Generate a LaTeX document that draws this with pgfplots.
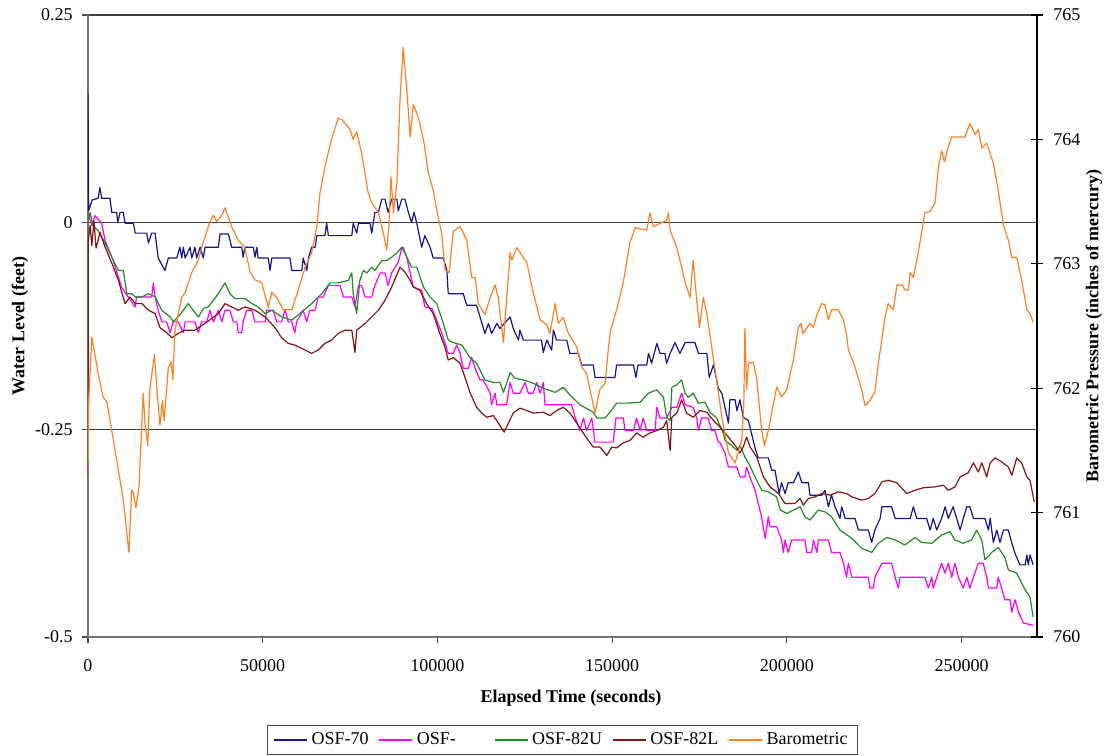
\documentclass[border=0pt]{standalone}
\usepackage{pgfplots}
\pgfplotsset{compat=1.18}
\usepackage{fontspec}
\setmainfont{Liberation Serif}
\definecolor{osfA}{RGB}{20,20,140}
\definecolor{osfB}{RGB}{255,0,255}
\definecolor{osfC}{RGB}{30,140,30}
\definecolor{osfD}{RGB}{130,20,20}
\definecolor{baro}{RGB}{255,128,32}
\begin{document}
\fontsize{9}{11}\selectfont
\begin{tikzpicture}
\useasboundingbox (-44pt,-59pt) rectangle (509.5pt,318.5pt);
% water levels, left axis
\begin{axis}[
  scale only axis, width=474.5pt, height=311pt,
  xmin=0, xmax=271600, ymin=-0.5, ymax=0.25,
  axis x line*=bottom, axis y line*=left,
  axis line style={black!55, line width=0.7pt},
  scaled x ticks=false,
  xtick={0,50000,100000,150000,200000,250000},
  xticklabels={0,50000,100000,150000,200000,250000},
  xticklabel style={yshift=-5pt},
  ytick={-0.5,-0.25,0,0.25},
  yticklabels={-0.5,-0.25,0,0.25},
  yticklabel style={xshift=-1.5pt},
  tick align=outside, major tick length=3pt,
  tick style={black!70, line width=0.6pt},
  ymajorgrids, grid style={black!75, line width=0.7pt},
  xlabel={\textbf{Elapsed Time (seconds)}},
  ylabel={\textbf{Water Level (feet)}},
  x label style={at={(axis description cs:0.509,-0.0981)}, anchor=center},
  y label style={at={(axis description cs:-0.0717,0.5)}, anchor=center},
  every axis plot/.append style={line width=0.6pt, line join=round},
]
\addplot[osfA] coordinates {
(0,0.155) (200,0.014) (1200,0.027) (2900,0.029) (3400,0.042) (3900,0.029) (6300,0.029) (6800,0.012) (8200,0.012) (8500,0.000) (9200,0.012) (10100,0.012) (10600,-0.001) (13000,-0.001) (13500,-0.013) (16800,-0.013) (17300,-0.025) (18200,-0.013) (19200,-0.013) (20100,-0.043) (22000,-0.058) (23000,-0.043) (25400,-0.043) (26300,-0.030) (26800,-0.043) (27300,-0.030) (27800,-0.043) (29200,-0.030) (29700,-0.043) (30600,-0.030) (31100,-0.043) (32100,-0.030) (33000,-0.043) (33500,-0.030) (37300,-0.030) (37800,-0.014) (40200,-0.014) (41100,-0.030) (44000,-0.030) (44400,-0.042) (44900,-0.030) (47300,-0.030) (47800,-0.042) (48300,-0.030) (48700,-0.043) (51600,-0.043) (52100,-0.058) (52600,-0.043) (57800,-0.043) (58300,-0.058) (61200,-0.058) (61600,-0.043) (62600,-0.058) (63100,-0.043) (64000,-0.030) (65000,-0.030) (65500,-0.016) (67800,-0.016) (68300,-0.001) (68800,-0.016) (75500,-0.016) (75900,-0.001) (76900,-0.013) (77400,-0.001) (80700,-0.001) (81200,-0.013) (82100,0.012) (83100,0.012) (84100,0.028) (85000,0.028) (85900,0.012) (86900,0.028) (88400,0.028) (88800,0.014) (89800,0.028) (90700,0.028) (91700,0.012) (92600,0.000) (93300,0.012) (94100,-0.001) (95500,-0.030) (96400,-0.016) (97900,-0.030) (98800,-0.043) (101700,-0.043) (102700,-0.058) (103100,-0.086) (107400,-0.086) (108400,-0.100) (111200,-0.100) (112200,-0.114) (113600,-0.134) (114600,-0.122) (115500,-0.134) (117000,-0.122) (117900,-0.128) (120800,-0.114) (121700,-0.128) (123200,-0.142) (123600,-0.130) (124600,-0.142) (129800,-0.142) (130300,-0.157) (131300,-0.142) (132700,-0.154) (133200,-0.130) (134100,-0.142) (137000,-0.142) (137900,-0.158) (140300,-0.158) (141300,-0.172) (144600,-0.172) (145100,-0.187) (150800,-0.187) (151300,-0.172) (156100,-0.172) (156800,-0.187) (157400,-0.172) (159900,-0.172) (160400,-0.158) (161300,-0.170) (162800,-0.146) (163700,-0.158) (165100,-0.158) (165600,-0.170) (166600,-0.158) (168000,-0.145) (169400,-0.158) (170900,-0.145) (173700,-0.145) (174700,-0.158) (177100,-0.158) (177800,-0.187) (179000,-0.172) (180400,-0.200) (181400,-0.206) (183300,-0.242) (183700,-0.214) (185200,-0.214) (185700,-0.227) (186600,-0.214) (187500,-0.235) (189000,-0.239) (190900,-0.272) (191800,-0.284) (194700,-0.284) (195700,-0.299) (196600,-0.299) (197800,-0.327) (198500,-0.314) (199500,-0.327) (200400,-0.314) (201900,-0.314) (203300,-0.301) (204300,-0.314) (206200,-0.314) (206600,-0.329) (210000,-0.329) (210900,-0.323) (211900,-0.343) (212800,-0.329) (213800,-0.343) (215200,-0.357) (215700,-0.343) (216700,-0.357) (219500,-0.357) (220500,-0.371) (223300,-0.371) (224300,-0.386) (225200,-0.371) (226700,-0.357) (227200,-0.343) (230000,-0.343) (231000,-0.357) (235300,-0.357) (236200,-0.343) (237200,-0.357) (240000,-0.357) (241000,-0.371) (241900,-0.357) (242900,-0.371) (244300,-0.357) (245300,-0.343) (246200,-0.357) (247600,-0.343) (248600,-0.357) (249600,-0.371) (250500,-0.357) (251500,-0.343) (252400,-0.343) (253400,-0.357) (256700,-0.357) (257700,-0.371) (258200,-0.357) (259100,-0.386) (260100,-0.371) (261000,-0.386) (262000,-0.371) (263400,-0.371) (264400,-0.387) (265300,-0.399) (266700,-0.413) (268200,-0.413) (268700,-0.401) (269100,-0.413) (269600,-0.401) (270500,-0.413)
};
\addplot[osfB] coordinates {
(0,0.012) (1100,-0.004) (2000,0.008) (3900,-0.001) (4900,-0.022) (7200,-0.046) (9600,-0.078) (11500,-0.090) (13500,-0.102) (13900,-0.090) (15800,-0.090) (18200,-0.090) (18700,-0.073) (19200,-0.090) (20100,-0.106) (21100,-0.120) (22500,-0.120) (23500,-0.133) (24400,-0.120) (25800,-0.120) (27300,-0.133) (27800,-0.120) (30600,-0.120) (31600,-0.133) (32500,-0.120) (34000,-0.120) (34900,-0.106) (35900,-0.120) (37300,-0.106) (38300,-0.120) (39200,-0.106) (40600,-0.106) (41600,-0.120) (42600,-0.120) (43000,-0.133) (44000,-0.133) (44400,-0.120) (45400,-0.106) (46900,-0.106) (47800,-0.120) (50700,-0.120) (51100,-0.106) (53000,-0.106) (54000,-0.120) (55400,-0.120) (56400,-0.106) (57300,-0.120) (58300,-0.120) (59200,-0.133) (59700,-0.120) (61600,-0.106) (62600,-0.120) (63500,-0.106) (65000,-0.106) (65900,-0.090) (67300,-0.090) (68800,-0.076) (72100,-0.076) (73100,-0.090) (75500,-0.090) (76400,-0.102) (77400,-0.076) (78300,-0.076) (79300,-0.090) (81200,-0.090) (82100,-0.076) (83600,-0.061) (85000,-0.061) (85900,-0.076) (86900,-0.061) (88800,-0.048) (89800,-0.031) (90200,-0.030) (91200,-0.042) (92200,-0.061) (93100,-0.078) (95500,-0.082) (96400,-0.102) (98400,-0.104) (99800,-0.118) (101200,-0.133) (102200,-0.146) (103100,-0.158) (104500,-0.158) (105500,-0.148) (106500,-0.158) (107400,-0.176) (108800,-0.176) (109800,-0.163) (110800,-0.176) (112200,-0.190) (113100,-0.190) (115100,-0.206) (115500,-0.220) (116500,-0.206) (117000,-0.220) (119800,-0.220) (120800,-0.193) (121700,-0.206) (123600,-0.206) (125100,-0.193) (126000,-0.206) (127400,-0.206) (128400,-0.193) (129400,-0.206) (130300,-0.193) (130800,-0.220) (138400,-0.220) (139400,-0.235) (140800,-0.251) (141800,-0.236) (142700,-0.251) (144200,-0.236) (145100,-0.265) (150300,-0.265) (151100,-0.236) (153200,-0.236) (153700,-0.251) (156100,-0.251) (157000,-0.236) (158000,-0.251) (158900,-0.236) (159900,-0.251) (162300,-0.251) (162800,-0.223) (163700,-0.236) (165600,-0.236) (167100,-0.223) (168500,-0.223) (169900,-0.206) (170900,-0.220) (173200,-0.223) (174200,-0.236) (174700,-0.251) (175600,-0.236) (177500,-0.236) (178500,-0.251) (179400,-0.251) (180400,-0.265) (180900,-0.266) (182300,-0.278) (183300,-0.295) (185700,-0.295) (186600,-0.307) (188000,-0.307) (188500,-0.295) (189500,-0.308) (190900,-0.323) (191800,-0.339) (192800,-0.355) (193800,-0.381) (194700,-0.355) (195200,-0.367) (197100,-0.367) (198500,-0.383) (199000,-0.398) (199500,-0.383) (200400,-0.398) (201400,-0.383) (205200,-0.383) (205700,-0.398) (207100,-0.398) (207600,-0.383) (208600,-0.398) (209000,-0.383) (211900,-0.383) (212800,-0.398) (215200,-0.398) (216200,-0.411) (217100,-0.428) (217600,-0.411) (218600,-0.428) (223300,-0.428) (223800,-0.441) (224800,-0.441) (225200,-0.428) (227200,-0.411) (230000,-0.411) (231000,-0.428) (231900,-0.441) (232400,-0.428) (239500,-0.428) (240500,-0.441) (241500,-0.428) (241900,-0.441) (242900,-0.428) (244300,-0.411) (245300,-0.423) (246200,-0.411) (247200,-0.428) (248100,-0.411) (249100,-0.428) (250500,-0.441) (251500,-0.428) (252400,-0.441) (253400,-0.428) (254800,-0.411) (256200,-0.411) (257200,-0.428) (257700,-0.441) (260100,-0.441) (260500,-0.428) (261500,-0.441) (262400,-0.455) (263900,-0.455) (264400,-0.470) (265300,-0.455) (266300,-0.470) (267700,-0.483) (270500,-0.486)
};
\addplot[osfC] coordinates {
(0,-0.001) (600,0.012) (1400,-0.004) (2900,-0.010) (4900,-0.025) (6800,-0.042) (8700,-0.058) (10100,-0.058) (11100,-0.086) (12500,-0.086) (13500,-0.090) (15400,-0.090) (17300,-0.086) (19200,-0.090) (21100,-0.106) (23500,-0.114) (24400,-0.120) (25800,-0.114) (27300,-0.106) (28700,-0.098) (30100,-0.106) (31600,-0.114) (33000,-0.104) (34400,-0.102) (35900,-0.094) (37300,-0.086) (39200,-0.073) (40600,-0.086) (42100,-0.092) (44900,-0.092) (46900,-0.098) (48700,-0.102) (50700,-0.110) (52600,-0.106) (55400,-0.114) (58300,-0.118) (61200,-0.108) (64000,-0.098) (66900,-0.086) (69300,-0.073) (71600,-0.073) (74500,-0.070) (75500,-0.061) (75900,-0.086) (76900,-0.110) (77800,-0.070) (78800,-0.058) (79800,-0.061) (81200,-0.054) (82100,-0.058) (84100,-0.046) (85500,-0.046) (86900,-0.042) (88400,-0.037) (89800,-0.030) (90700,-0.037) (92600,-0.054) (94100,-0.054) (96000,-0.078) (97900,-0.090) (99800,-0.098) (101700,-0.122) (103100,-0.142) (104500,-0.145) (107000,-0.148) (109300,-0.163) (111200,-0.170) (113600,-0.190) (116000,-0.193) (117900,-0.193) (118900,-0.205) (119800,-0.194) (120800,-0.181) (122200,-0.188) (124600,-0.190) (127400,-0.194) (130300,-0.200) (133700,-0.205) (136000,-0.199) (137900,-0.208) (140800,-0.220) (144600,-0.229) (145600,-0.236) (148000,-0.236) (149400,-0.229) (151300,-0.218) (154200,-0.218) (158000,-0.217) (160400,-0.206) (162800,-0.202) (164700,-0.211) (165600,-0.235) (166600,-0.239) (167100,-0.199) (168500,-0.196) (169900,-0.190) (170900,-0.206) (171800,-0.211) (173200,-0.206) (174700,-0.218) (176600,-0.217) (178000,-0.229) (179900,-0.236) (181800,-0.254) (182300,-0.263) (184200,-0.269) (185700,-0.275) (186600,-0.269) (188000,-0.283) (189000,-0.290) (190900,-0.307) (192800,-0.323) (194700,-0.325) (197100,-0.331) (198100,-0.347) (200000,-0.351) (201900,-0.347) (203800,-0.343) (205200,-0.355) (206600,-0.359) (209000,-0.347) (210900,-0.349) (212800,-0.355) (215200,-0.371) (218600,-0.381) (221400,-0.393) (224300,-0.398) (226200,-0.387) (228600,-0.380) (231000,-0.383) (233800,-0.389) (236700,-0.380) (238600,-0.386) (241500,-0.387) (244300,-0.377) (246700,-0.373) (248100,-0.383) (250500,-0.387) (252900,-0.383) (254300,-0.371) (255800,-0.383) (256700,-0.407) (258600,-0.398) (260500,-0.392) (262400,-0.404) (263400,-0.419) (265800,-0.423) (267200,-0.435) (268200,-0.443) (269600,-0.452) (270500,-0.476)
};
\addplot[osfD] coordinates {
(0,-0.307) (100,-0.022) (600,-0.004) (1100,-0.028) (1700,0.002) (2300,-0.031) (2900,-0.022) (3400,-0.012) (4900,-0.030) (6800,-0.049) (8700,-0.070) (10600,-0.098) (12000,-0.090) (13500,-0.098) (15400,-0.098) (17300,-0.106) (19200,-0.110) (20600,-0.127) (22500,-0.133) (24000,-0.139) (25800,-0.134) (27800,-0.130) (30600,-0.130) (33500,-0.122) (35400,-0.116) (37300,-0.110) (39200,-0.098) (41100,-0.102) (43000,-0.106) (44900,-0.102) (47800,-0.106) (50700,-0.114) (53500,-0.127) (55400,-0.139) (57300,-0.146) (59200,-0.148) (62100,-0.154) (64000,-0.158) (65900,-0.154) (67800,-0.146) (69700,-0.142) (71600,-0.134) (73600,-0.130) (75500,-0.130) (76400,-0.157) (76900,-0.130) (79300,-0.122) (81200,-0.114) (83100,-0.106) (85000,-0.094) (86900,-0.078) (89300,-0.054) (90700,-0.060) (92200,-0.070) (93100,-0.078) (95000,-0.082) (96900,-0.098) (98800,-0.110) (100700,-0.134) (102200,-0.151) (103100,-0.166) (104500,-0.163) (106500,-0.170) (107900,-0.187) (109300,-0.205) (111200,-0.223) (112700,-0.230) (114100,-0.235) (116000,-0.233) (117900,-0.245) (119100,-0.253) (120300,-0.242) (121700,-0.230) (123600,-0.224) (125600,-0.227) (127400,-0.230) (130300,-0.229) (132200,-0.233) (134100,-0.227) (136000,-0.223) (137900,-0.230) (139900,-0.242) (142200,-0.257) (144600,-0.271) (146500,-0.271) (148500,-0.281) (149900,-0.271) (151300,-0.272) (153200,-0.266) (155100,-0.263) (157000,-0.254) (158900,-0.259) (160800,-0.254) (162800,-0.251) (164700,-0.247) (165600,-0.239) (166600,-0.275) (167100,-0.235) (168500,-0.230) (169900,-0.214) (171300,-0.230) (173200,-0.235) (175200,-0.227) (177100,-0.229) (179000,-0.239) (180900,-0.247) (182300,-0.254) (183300,-0.259) (185200,-0.269) (186600,-0.278) (187500,-0.271) (188500,-0.259) (189500,-0.271) (191400,-0.283) (193300,-0.307) (195200,-0.319) (197600,-0.327) (199500,-0.339) (202300,-0.339) (203800,-0.333) (204700,-0.341) (206200,-0.333) (208100,-0.331) (210000,-0.327) (212400,-0.329) (214700,-0.325) (217100,-0.327) (218600,-0.331) (221400,-0.335) (223300,-0.333) (225200,-0.327) (227200,-0.313) (229000,-0.311) (231500,-0.314) (234300,-0.327) (236700,-0.323) (239100,-0.320) (242400,-0.319) (244800,-0.317) (246200,-0.323) (248100,-0.319) (249600,-0.307) (251900,-0.302) (253400,-0.290) (254800,-0.301) (255800,-0.290) (257200,-0.307) (258200,-0.290) (259600,-0.284) (261500,-0.289) (263400,-0.295) (264400,-0.305) (265800,-0.284) (267200,-0.290) (268700,-0.307) (269600,-0.311) (270800,-0.337)
};
\end{axis}
% barometric pressure, right axis
\begin{axis}[
  scale only axis, width=474.5pt, height=311pt,
  xmin=0, xmax=271600, ymin=760, ymax=765,
  axis x line=none, axis y line*=right,
  axis line style={black, line width=0.7pt},
  ytick={760,761,762,763,764,765},
  yticklabels={760,761,762,763,764,765},
  yticklabel style={xshift=2pt},
  tick align=center, major tick length=6pt,
  tick style={black, line width=0.6pt},
  ylabel={\textbf{Barometric Pressure (inches of mercury)}},
  y label style={at={(axis description cs:1.06,0.5)}, anchor=center},
  every axis plot/.append style={line width=0.6pt, line join=round},
  legend columns=5,
  legend style={at={(axis description cs:0.5,-0.1415)}, anchor=north,
    draw=black!70, line width=0.7pt, inner xsep=3pt, inner ysep=1.5pt,
    /tikz/every even column/.append style={column sep=3pt}},
  legend image code/.code={\draw[#1, line width=0.6pt] (0pt,0pt) -- (16.5pt,0pt);},
]
\addlegendimage{osfA}
\addlegendentry{OSF-70}
\addlegendimage{osfB}
\addlegendentry{OSF-\kern14pt}
\addlegendimage{osfC}
\addlegendentry{OSF-82U}
\addlegendimage{osfD}
\addlegendentry{OSF-82L}
\addplot[baro] coordinates {
(0,761.29) (200,761.90) (1100,762.41) (2900,762.12) (4300,761.93) (5400,761.89) (6800,761.66) (8700,761.34) (10100,761.10) (11700,760.68) (12500,761.18) (12900,761.17) (13700,761.04) (14600,761.21) (15800,761.96) (16300,761.72) (17100,761.54) (17700,761.99) (19000,762.27) (19900,761.93) (20600,761.70) (21300,761.90) (21800,761.74) (23000,762.17) (23800,762.21) (24300,762.07) (24900,762.47) (26800,762.73) (27800,762.77) (29700,762.93) (31600,763.03) (32500,763.13) (34900,763.34) (35900,763.39) (36800,763.34) (38300,763.39) (39200,763.45) (41100,763.30) (43000,763.19) (44900,763.13) (46400,762.93) (47800,762.87) (49700,762.85) (51600,762.65) (52600,762.77) (54000,762.73) (55900,762.63) (58300,762.63) (60200,762.79) (62100,762.97) (64000,763.09) (65500,763.30) (66400,763.57) (67800,763.78) (69700,764.00) (71600,764.17) (72600,764.16) (75000,764.08) (75900,764.00) (76900,764.06) (78300,763.89) (80200,763.57) (81200,763.49) (83100,763.41) (84500,763.25) (85500,763.11) (86100,763.30) (86700,763.70) (87400,763.41) (88400,763.65) (89300,764.32) (90200,764.74) (91200,764.41) (92200,764.02) (93100,764.28) (94500,764.18) (96000,764.00) (97400,763.73) (98800,763.59) (99800,763.43) (101200,763.25) (102200,762.95) (103400,762.93) (104500,763.26) (106500,763.30) (108400,763.19) (109800,762.89) (110800,762.89) (111700,762.68) (113600,762.59) (115100,762.73) (116500,762.83) (117400,762.73) (118900,762.37) (120800,763.09) (121300,763.03) (122700,763.13) (124600,763.05) (125600,763.01) (127400,762.77) (129400,762.55) (131300,762.51) (132200,762.44) (133700,762.68) (134600,762.52) (136000,762.57) (137500,762.44) (139900,762.33) (141300,762.17) (142700,762.12) (145100,761.80) (146500,761.99) (148000,762.04) (148900,762.31) (149600,762.47) (151300,762.63) (153200,762.85) (155100,763.17) (156600,763.29) (159900,763.27) (160800,763.41) (161800,763.30) (165600,763.35) (166100,763.41) (166600,763.27) (168500,763.13) (169400,763.03) (170900,762.85) (172300,762.73) (173200,763.03) (174200,762.71) (175000,762.49) (176100,762.73) (177100,762.60) (179000,762.23) (179900,762.07) (181400,761.77) (183300,761.48) (185200,761.40) (187100,761.58) (187700,761.90) (188000,762.48) (188500,761.99) (189000,762.20) (190400,762.21) (191400,762.07) (192800,761.66) (193600,761.54) (194700,761.66) (197100,762.01) (198500,761.93) (200000,761.99) (201900,762.23) (203300,762.49) (204100,762.52) (204600,762.44) (206600,762.52) (207600,762.49) (208600,762.59) (210000,762.68) (210900,762.67) (211900,762.55) (212800,762.63) (214700,762.63) (216200,762.55) (217100,762.43) (217600,762.31) (219500,762.17) (221400,761.99) (222400,761.86) (223800,761.90) (225200,761.97) (226200,762.20) (227600,762.47) (228100,762.57) (229000,762.68) (230500,762.63) (231500,762.83) (232900,762.83) (233800,762.79) (234800,762.79) (235300,762.93) (236200,762.89) (237600,763.09) (239100,763.34) (239500,763.41) (241000,763.42) (242400,763.49) (243400,763.78) (244300,763.91) (245100,763.82) (246200,763.94) (247200,764.02) (251000,764.02) (252400,764.13) (253900,764.04) (254800,764.08) (255800,763.93) (257200,763.97) (259100,763.81) (260500,763.59) (262000,763.31) (263400,763.19) (264400,763.05) (265800,763.05) (267200,762.87) (268700,762.63) (269600,762.60) (270500,762.53)
};
\addlegendentry{Barometric}
\end{axis}
\end{tikzpicture}
\end{document}
